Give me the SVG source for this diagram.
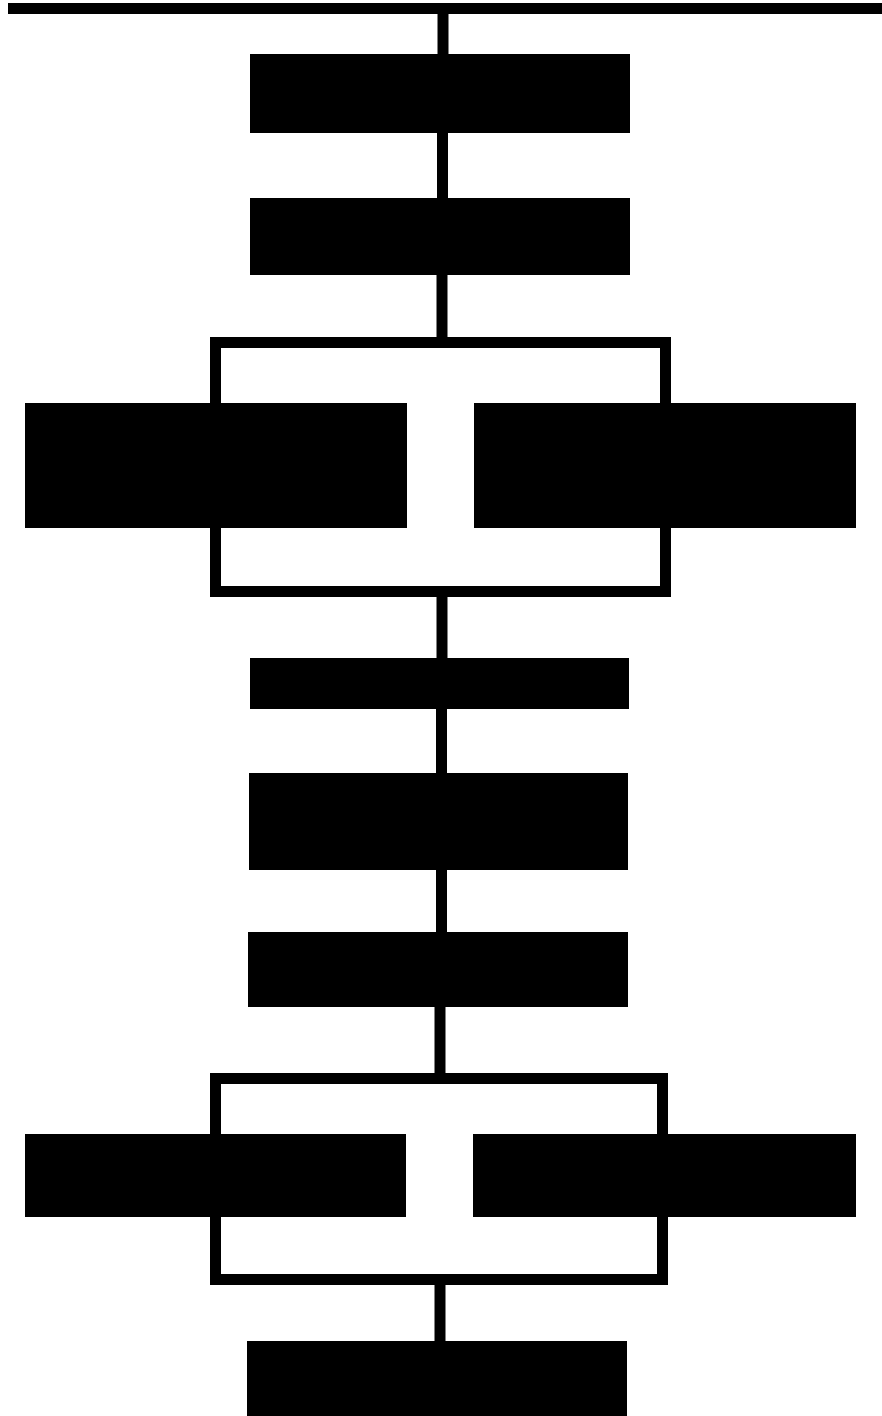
<svg xmlns="http://www.w3.org/2000/svg" width="882" height="1416" viewBox="0 0 882 1416">
<style>
.node{fill:#000}
.conn{stroke:#000;stroke-width:11;fill:none}
</style>
<rect width="882" height="1416" fill="#fff"/>
<g id="connectors">
<line class="conn" x1="8" y1="8.5" x2="882" y2="8.5"/>
<line class="conn" x1="443" y1="8" x2="443" y2="56"/>
<line class="conn" x1="442.5" y1="130" x2="442.5" y2="200"/>
<line class="conn" x1="442" y1="273" x2="442" y2="340"/>
<rect class="conn" x="215.5" y="342.5" width="450" height="249"/>
<line class="conn" x1="442" y1="595" x2="442" y2="660"/>
<line class="conn" x1="441.5" y1="707" x2="441.5" y2="775"/>
<line class="conn" x1="441.5" y1="868" x2="441.5" y2="934"/>
<line class="conn" x1="440" y1="1005" x2="440" y2="1075"/>
<rect class="conn" x="215.5" y="1078.5" width="447" height="201"/>
<line class="conn" x1="440" y1="1283" x2="440" y2="1343"/>
</g>
<g id="n1"><rect class="node" x="250" y="54" width="380" height="79"/></g>
<g id="n2"><rect class="node" x="250" y="198" width="380" height="77"/></g>
<g id="n3"><rect class="node" x="25" y="403" width="382" height="125"/></g>
<g id="n4"><rect class="node" x="474" y="403" width="382" height="125"/></g>
<g id="n5"><rect class="node" x="250" y="658" width="379" height="51"/></g>
<g id="n6"><rect class="node" x="249" y="773" width="379" height="97"/></g>
<g id="n7"><rect class="node" x="248" y="932" width="380" height="75"/></g>
<g id="n8"><rect class="node" x="25" y="1134" width="381" height="83"/></g>
<g id="n9"><rect class="node" x="473" y="1134" width="383" height="83"/></g>
<g id="n10"><rect class="node" x="247" y="1341" width="380" height="75"/></g>
</svg>
